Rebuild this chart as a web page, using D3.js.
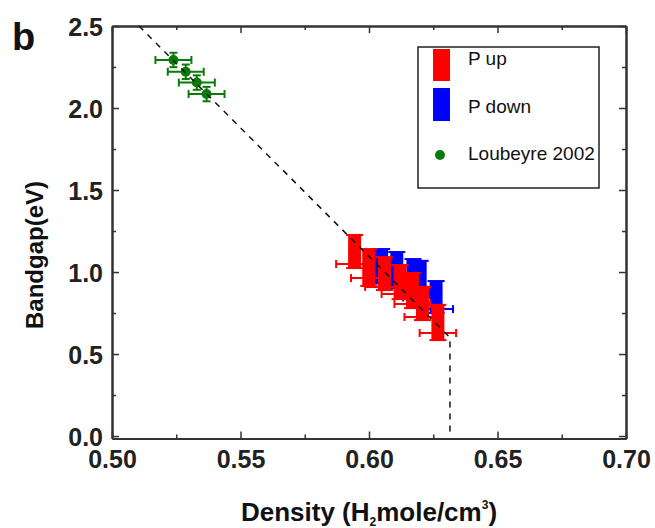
<!DOCTYPE html>
<html>
<head>
<meta charset="utf-8">
<script src="https://cdn.jsdelivr.net/npm/d3@7"></script>
<style>
  body { margin: 0; background: #fff; }
  text { font-family: "Liberation Sans", Arial, sans-serif; }
  .axis path, .axis line { stroke: #333; }
  .tick-label { font-weight: bold; font-size: 25px; fill: #222; font-family: "Liberation Sans", Arial, sans-serif; }
</style>
</head>
<body>
<svg id="chart" width="655" height="528"></svg>
<script>
// Loubeyre 2002
const greenX = [0.5239, 0.5287, 0.5330, 0.5368];
const greenY = [2.293, 2.221, 2.155, 2.085];
const greenXErr = [0.007, 0.007, 0.007, 0.007];
const greenYErr = [0.044, 0.044, 0.044, 0.044];

// P up (red): bandgap range low..high, marker y where density error is drawn
const upX = [0.5944, 0.5999, 0.6060, 0.6121, 0.6169, 0.6208, 0.6268];
const upLow = [1.024, 0.915, 0.890, 0.835, 0.780, 0.707, 0.585];
const upHigh = [1.226, 1.140, 1.091, 1.043, 0.994, 0.910, 0.800];
const upMark = [1.049, 0.963, 0.909, 0.866, 0.805, 0.726, 0.628];
const upXErr = [0.0072, 0.0069, 0.0075, 0.0072, 0.0070, 0.0070, 0.0071];

// P down (blue)
const downX = [0.6049, 0.6108, 0.6171, 0.6199, 0.6261];
const downLow = [0.930, 0.900, 0.850, 0.820, 0.750];
const downHigh = [1.140, 1.122, 1.079, 1.068, 0.945];
const downMark = [0.955, 0.925, 0.875, 0.845, 0.774];
const downXErr = [0.0066, 0.0066, 0.0066, 0.0066, 0.0066];

// dashed guide line
const guideX = [0.5105, 0.6315, 0.6315];
const guideY = [2.5, 0.6, 0.0];

const xTicks = [0.50, 0.55, 0.60, 0.65, 0.70];
const yTicks = [0.0, 0.5, 1.0, 1.5, 2.0, 2.5];
const xMinor = [0.525, 0.575, 0.625, 0.675];
const yMinor = [0.25, 0.75, 1.25, 1.75, 2.25];

const legendNames = ['P up', 'P down', 'Loubeyre 2002'];
const RED = '#ff0000', BLUE = '#0000ff', GREEN = '#0a7a0a';

const svg = d3.select('svg#chart');
const plotL = 112, plotR = 626, plotT = 26, plotB = 438.5;

const x = d3.scaleLinear().domain([0.5, 0.7]).range([plotL, plotR]);
const y = d3.scaleLinear().domain([-0.015, 2.5]).range([plotB, plotT]);

// frame with inward ticks on all sides
function frameAxis(makeAxis, scale, tr, major, minor, fmt) {
  const gMin = svg.append('g').attr('class', 'axis').attr('transform', tr)
      .call(makeAxis(scale).tickValues(minor).tickSizeInner(-4).tickSizeOuter(0).tickFormat(''));
  const gMaj = svg.append('g').attr('class', 'axis').attr('transform', tr)
      .call(makeAxis(scale).tickValues(major).tickSizeInner(-7).tickSizeOuter(0).tickFormat(fmt || (() => '')));
  [gMaj, gMin].forEach(g => {
    g.selectAll('path').attr('stroke-width', 2);
    g.selectAll('line').attr('stroke-width', 1.5);
  });
  return gMaj;
}
const gx = frameAxis(d3.axisBottom, x, `translate(0,${plotB})`, xTicks, xMinor, d3.format('.2f'));
gx.selectAll('text').attr('class', 'tick-label').attr('y', 12).attr('dy', '0.71em');
const gy = frameAxis(d3.axisLeft, y, `translate(${plotL},0)`, yTicks, yMinor, d3.format('.1f'));
gy.selectAll('text').attr('class', 'tick-label').attr('x', -9).attr('dy', '0.36em');
frameAxis(d3.axisTop, x, `translate(0,${plotT})`, xTicks, xMinor, null);
frameAxis(d3.axisRight, y, `translate(${plotR},0)`, yTicks, yMinor, null);

const guideLine = d3.line().x(d => x(d[0])).y(d => y(d[1]));
const guidePts = guideX.map((d, i) => [d, guideY[i]]);

// horizontal error bar helper
function hBar(g, cx, cy, err, color) {
  g.append('line').attr('x1', x(cx - err)).attr('x2', x(cx + err))
      .attr('y1', y(cy)).attr('y2', y(cy)).attr('stroke', color).attr('stroke-width', 2);
  [cx - err, cx + err].forEach(e => {
    g.append('line').attr('x1', x(e)).attr('x2', x(e))
        .attr('y1', y(cy) - 4).attr('y2', y(cy) + 4).attr('stroke', color).attr('stroke-width', 2);
  });
}

function rangeBars(xs, lows, highs, marks, errs, color) {
  const g = svg.append('g');
  xs.forEach((cx, i) => {
    const px = x(cx);
    g.append('rect').attr('x', px - 6.5).attr('width', 13)
        .attr('y', y(highs[i])).attr('height', y(lows[i]) - y(highs[i]))
        .attr('fill', color);
    [highs[i], lows[i]].forEach(v => {
      g.append('rect').attr('x', px - 8.5).attr('width', 17)
          .attr('y', y(v) - 1).attr('height', 2).attr('fill', color);
    });
    hBar(g, cx, marks[i], errs[i], color);
  });
}
rangeBars(downX, downLow, downHigh, downMark, downXErr, BLUE);
rangeBars(upX, upLow, upHigh, upMark, upXErr, RED);

// Loubeyre points
const gG = svg.append('g');
greenX.forEach((cx, i) => {
  hBar(gG, cx, greenY[i], greenXErr[i], GREEN);
  gG.append('line').attr('x1', x(cx)).attr('x2', x(cx))
      .attr('y1', y(greenY[i] - greenYErr[i])).attr('y2', y(greenY[i] + greenYErr[i]))
      .attr('stroke', GREEN).attr('stroke-width', 2);
  [greenY[i] - greenYErr[i], greenY[i] + greenYErr[i]].forEach(v => {
    gG.append('line').attr('x1', x(cx) - 4).attr('x2', x(cx) + 4)
        .attr('y1', y(v)).attr('y2', y(v)).attr('stroke', GREEN).attr('stroke-width', 2);
  });
  gG.append('circle').attr('cx', x(cx)).attr('cy', y(greenY[i])).attr('r', 5).attr('fill', GREEN);
});

// guide line on top (it shows through the markers in the original)
svg.append('path')
    .datum(guidePts)
    .attr('d', guideLine)
    .attr('fill', 'none').attr('stroke', '#111').attr('stroke-width', 1.5)
    .attr('stroke-dasharray', '6,6');

// legend
const lg = svg.append('g').attr('transform', 'translate(418,47)');
lg.append('rect').attr('width', 181).attr('height', 141)
    .attr('fill', 'none').attr('stroke', '#222').attr('stroke-width', 1.5);
lg.append('rect').attr('x', 15).attr('y', 2).attr('width', 17).attr('height', 32).attr('fill', RED);
lg.append('rect').attr('x', 15).attr('y', 41).attr('width', 17).attr('height', 33).attr('fill', BLUE);
lg.append('circle').attr('cx', 22).attr('cy', 108).attr('r', 5).attr('fill', GREEN);
legendNames.forEach((name, i) => {
  lg.append('text').attr('x', 50).attr('y', [18, 66, 113][i])
      .style('font-size', '19px').attr('fill', '#111').text(name);
});

// axis titles
svg.append('text').attr('transform', 'translate(43,255) rotate(-90)')
    .attr('text-anchor', 'middle').style('font-size', '24px').style('font-weight', 'bold')
    .attr('fill', '#111').text('Bandgap(eV)');
const xt = svg.append('text').attr('x', 369).attr('y', 521).attr('text-anchor', 'middle')
    .style('font-size', '26px').style('font-weight', 'bold').attr('fill', '#111');
xt.append('tspan').text('Density (H');
xt.append('tspan').attr('dy', 5).style('font-size', '12px').text('2');
xt.append('tspan').attr('dy', -5).text('mole/cm');
xt.append('tspan').attr('dy', -12).style('font-size', '12px').text('3');
xt.append('tspan').attr('dy', 12).text(')');

svg.append('text').attr('x', 12).attr('y', 50).style('font-size', '38px')
    .style('font-weight', 'bold').attr('fill', '#111').text('b');
</script>
</body>
</html>
